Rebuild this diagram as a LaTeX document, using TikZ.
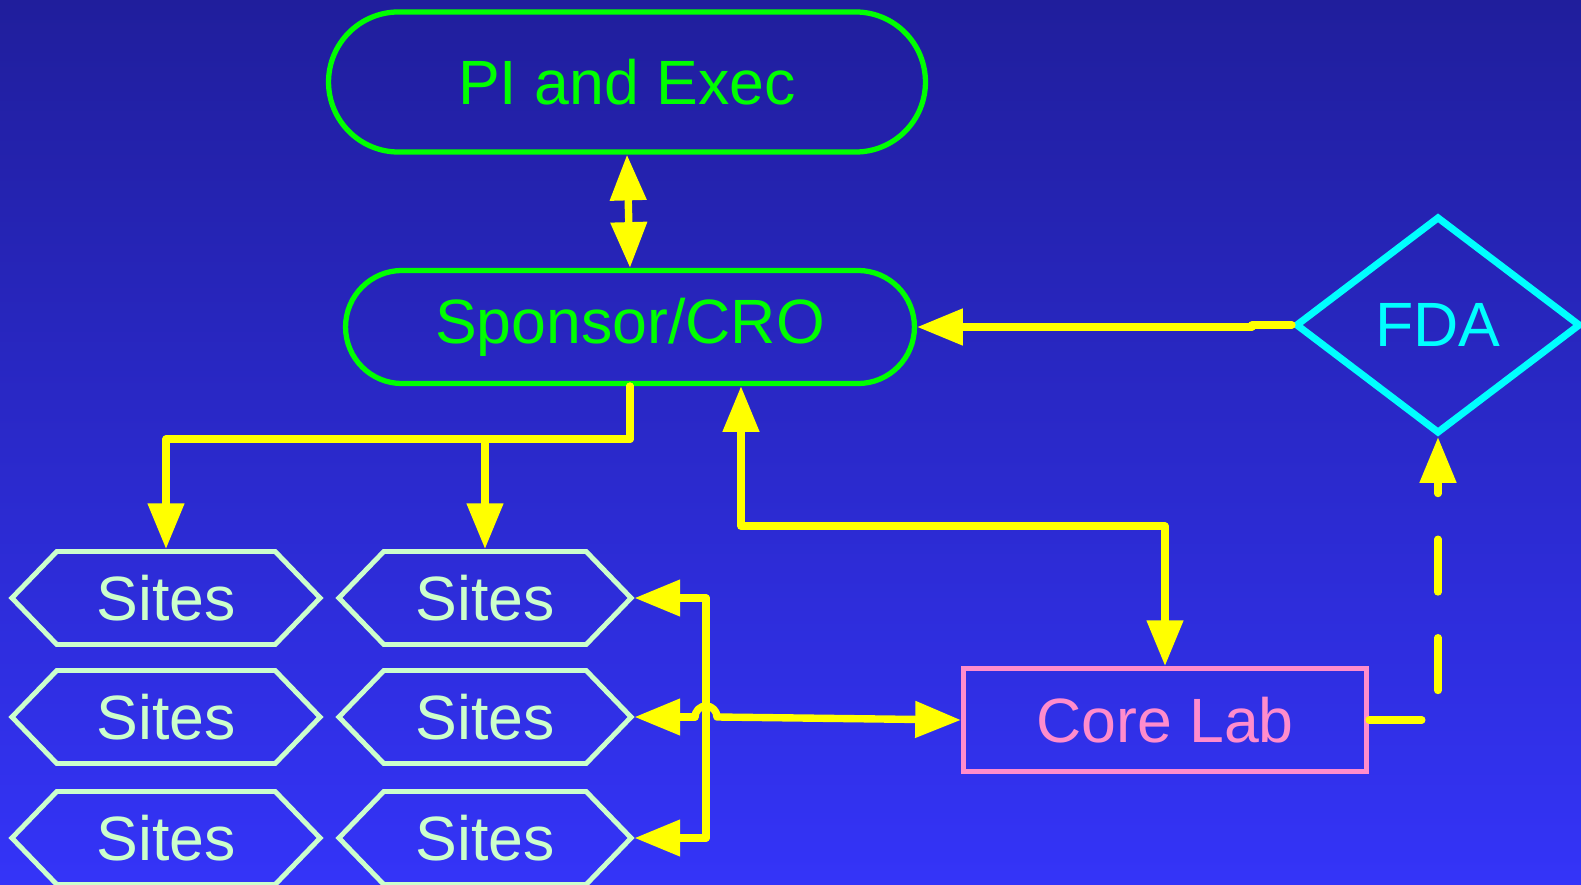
\documentclass[tikz,border=0pt]{standalone}
\usepackage{fontspec}
\setmainfont{Liberation Sans}
\usetikzlibrary{arrows.meta,calc,shapes.geometric,shapes.misc,shapes.symbols}
\definecolor{bgtop}{RGB}{32,30,156}
\definecolor{bgbot}{RGB}{52,52,248}
\definecolor{mint}{RGB}{204,255,204}
\definecolor{labpink}{RGB}{255,140,204}
\definecolor{fdacyan}{RGB}{0,255,255}
\definecolor{pigreen}{RGB}{0,255,0}
\definecolor{linkyellow}{RGB}{255,255,0}
\begin{document}
\begin{tikzpicture}[x=0.01cm,y=-0.01cm,
  every node/.style={font=\fontsize{17.8}{20}\selectfont},
  pill/.style={rounded rectangle,draw=pigreen,line width=1.5pt,text=pigreen},
  site/.style={signal,signal to=west and east,signal pointer angle=92,draw=mint,
    line width=1.4pt,text=mint,minimum height=0.93cm,inner sep=0pt},
  link/.style={linkyellow,line width=2.1pt,line cap=round,line join=round},
  tip/.style={-{Triangle[length=13pt,width=10pt]}},
  tips/.style={{Triangle[length=13pt,width=10pt]}-{Triangle[length=13pt,width=10pt]}}]
\useasboundingbox (0,0) rectangle (1581,885);
\shade[top color=bgtop,bottom color=bgbot] (0,0) rectangle (1581,885);

\node[pill,minimum width=6.2cm,minimum height=1.4cm] (pi) at (627,82) {PI and Exec};
\node[pill,minimum width=5.92cm,minimum height=1.13cm] (cro) at (630,327) {Sponsor/CRO};
\node[diamond,draw=fdacyan,line width=2pt,text=fdacyan,minimum width=2.85cm,
  minimum height=2.17cm,inner sep=0pt] (fda) at (1438,325) {FDA};
\node[draw=labpink,line width=1.4pt,text=labpink,minimum width=4.03cm,
  minimum height=1.03cm] (lab) at (1165,720) {Core Lab};
\foreach \y/\n in {598/1,717/2,838/3}{
  \node[site,minimum width=3.08cm] (a\n) at (166,\y) {Sites};
  \node[site,minimum width=2.92cm] (b\n) at (485,\y) {Sites};
}
\coordinate (hub) at (706,717);

\draw[link,tips] (pi.south) -- (cro.north);
\draw[link,tip] (cro.south) -- ++(0,53) -| (a1.north);
\draw[link,tip] (cro.south) -- ++(0,53) -| (b1.north);
\draw[link,tip] (fda.west) -- ++(-40,0) |- (cro.east);
\draw[link,tips] ($(cro.south)+(111,0)$) -- ++(0,140) -| (lab.north);
\draw[link] (hub |- b1.east) -- (hub |- b3.east);
\draw[link,tip] (hub |- b1.east) -- (b1.east);
\draw[link,tip] (hub |- b3.east) -- (b3.east);
\draw[link,tip] ($(hub)+(-11,0)$) -- (b2.east);
\draw[link,tip] (hub) ++(-11,0) arc (180:360:11) -- (lab.west);
\draw[link,tip,dash pattern=on 15pt off 13pt] (lab.east) -| (fda.south);
\end{tikzpicture}
\end{document}
